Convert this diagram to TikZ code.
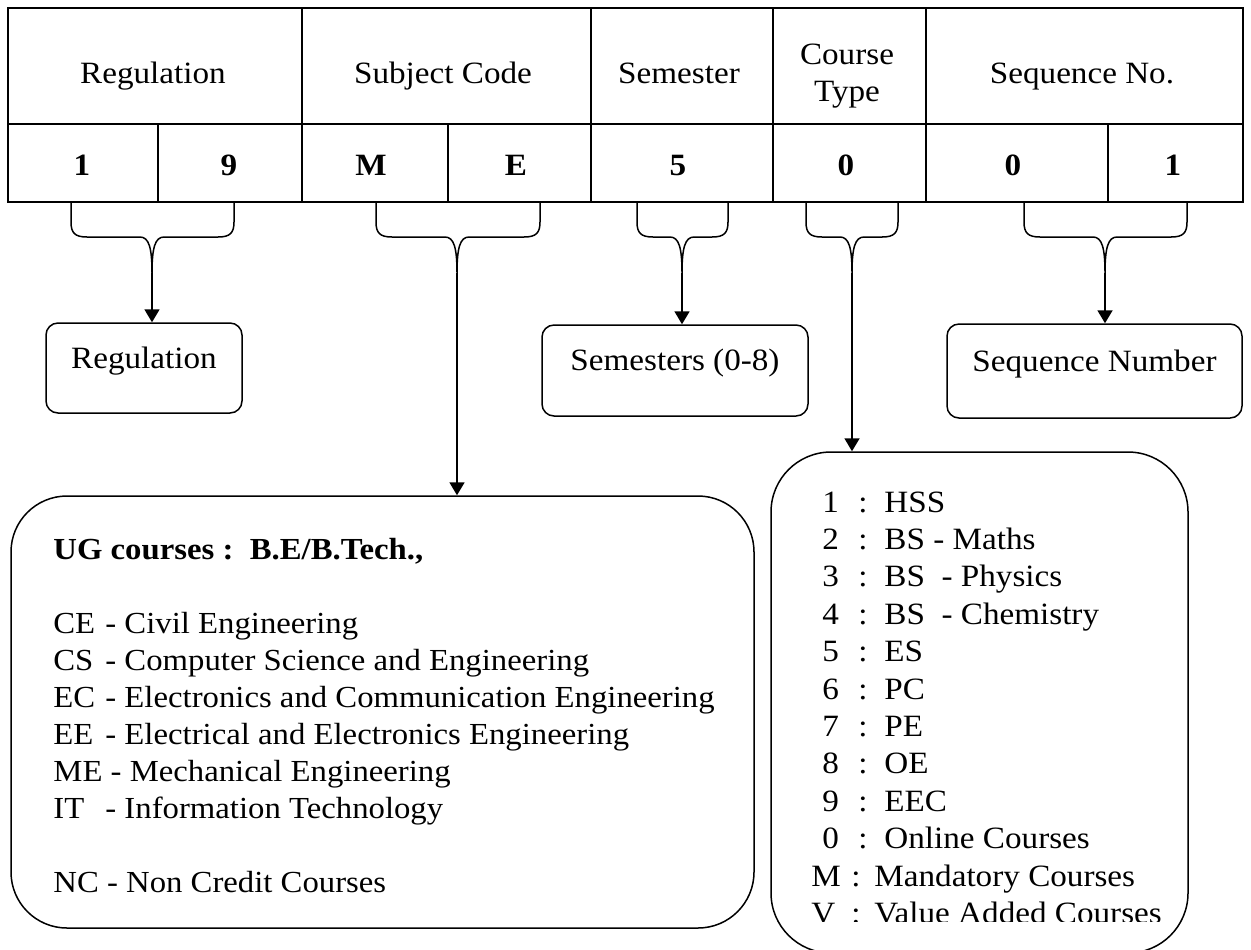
\documentclass[tikz,border=0pt]{standalone}
\usepackage{fontspec}
\setmainfont{Liberation Serif}[FakeStretch=1.07]
\usetikzlibrary{arrows.meta}

\begin{document}
\begin{tikzpicture}[x=0.5pt, y=-0.5pt,
    font=\fontsize{15.5}{18.5}\selectfont,
    grid/.style={line width=1pt},
    hdr/.style={anchor=base, inner sep=0pt},
    num/.style={anchor=base, inner sep=0pt, font=\fontsize{15.5}{18.5}\selectfont\bfseries},
    bracel/.style={line width=0.75pt},
    arr/.style={line width=0.9pt, -{Triangle[length=6.5pt, width=7.5pt]}},
    smallbox/.style={draw, line width=0.75pt, rounded corners=6pt, text height=11pt, text depth=11pt},
    bigbox/.style={draw, line width=0.75pt, rounded corners=28pt}]
    \useasboundingbox (0,0) rectangle (1251,949);

    % Draw the code table
    \draw[grid] (8,8) rectangle (1243,202);
    \draw[grid] (8,124) -- (1243,124);
    \foreach \x in {302, 591, 773, 926} \draw[grid] (\x,8) -- (\x,202);
    \foreach \x in {158, 448, 1108} \draw[grid] (\x,124) -- (\x,202);

    % Header texts
    \node[hdr] (hreg) at (153,83) {Regulation};
    \node[hdr] (hsub) at (443,83) {Subject Code};
    \node[hdr] (hsem) at (679,83) {Semester};
    \node[align=center, inner sep=0pt] (hct) at (847,76) {Course\\Type};
    \node[hdr] (hseq) at (1082,83) {Sequence No.};

    % Code digits
    \foreach \x/\d [count=\i] in {82/1, 229/9, 371/M, 516/E, 678/5, 846/0, 1013/0, 1173/1}
        \node[num] (d\i) at (\x,175) {\d};

    % Braces under the groups
    \foreach \l/\r/\c/\n in {71/234/152/reg, 376/540/457/sub, 637/728/682/sem, 806/898/852/ct, 1024/1187/1105/seq} {
        \draw[bracel] (\l,202) -- (\l,222) .. controls (\l,233) and ({\l+4},237) .. ({\l+16},237)
            -- ({\c-12},237) .. controls ({\c-3},237) and (\c,248) .. (\c,273)
            .. controls (\c,248) and ({\c+3},237) .. ({\c+12},237)
            -- ({\r-16},237) .. controls ({\r-4},237) and (\r,233) .. (\r,222) -- (\r,202);
        \coordinate (\n tip) at (\c,273);
    }

    % Small boxes
    \node[smallbox, minimum width=98pt, minimum height=45pt] (regbox) at (144,368) {Regulation};
    \node[smallbox, minimum width=133pt, minimum height=45.5pt] (sembox) at (675,370.5) {Semesters (0-8)};
    \node[smallbox, minimum width=147.5pt, minimum height=47pt] (seqbox) at (1094.5,371) {Sequence Number};

    % Subject code box
    \node[bigbox, minimum width=371.5pt, minimum height=216pt] (ugbox) at (382.5,712) {};
    \node[anchor=west, align=left, inner sep=0pt, font=\fontsize{15.3}{18.5}\selectfont] (uglist) at (53,716) {%
        \textbf{UG courses :\ \ B.E/B.Tech.,}\\[18.5pt]
        \makebox[26pt][l]{CE}- Civil Engineering\\
        \makebox[26pt][l]{CS}- Computer Science and Engineering\\
        \makebox[26pt][l]{EC}- Electronics and Communication Engineering\\
        \makebox[26pt][l]{EE}- Electrical and Electronics Engineering\\
        ME - Mechanical Engineering\\
        \makebox[26pt][l]{IT}- Information Technology\\[18.5pt]
        NC - Non Credit Courses};

    % Course type box
    \node[bigbox, minimum width=208.5pt, minimum height=250.5pt, rounded corners=30pt] (ctbox) at (979.5,702.5) {};
    \begin{scope}
        \clip (771,452) rectangle (1188,921);
        \foreach \x/\k/\t/\w/\cw [count=\i] in {822/1/HSS/18pt/13pt, 822/2/BS - Maths/18pt/13pt,
            822/3/BS\ \ - Physics/18pt/13pt, 822/4/BS\ \ - Chemistry/18pt/13pt, 822/5/ES/18pt/13pt,
            822/6/PC/18pt/13pt, 822/7/PE/18pt/13pt, 822/8/OE/18pt/13pt, 822/9/EEC/18pt/13pt,
            822/0/Online Courses/18pt/13pt, 811/M/Mandatory Courses/20pt/11.5pt,
            811/V/Value Added Courses/20pt/11.5pt}
            \node[anchor=base west, inner sep=0pt] (ct\i) at (\x,{512+37.4*(\i-1)})
                {\makebox[\w][l]{\k}\makebox[\cw][l]{:}\t};
    \end{scope}

    % Arrows to the boxes
    \draw[arr] (regtip) -- (regtip |- regbox.north);
    \draw[arr] (subtip) -- (subtip |- ugbox.north);
    \draw[arr] (semtip) -- (semtip |- sembox.north);
    \draw[arr] (cttip) -- (cttip |- ctbox.north);
    \draw[arr] (seqtip) -- (seqtip |- seqbox.north);
\end{tikzpicture}
\end{document}
